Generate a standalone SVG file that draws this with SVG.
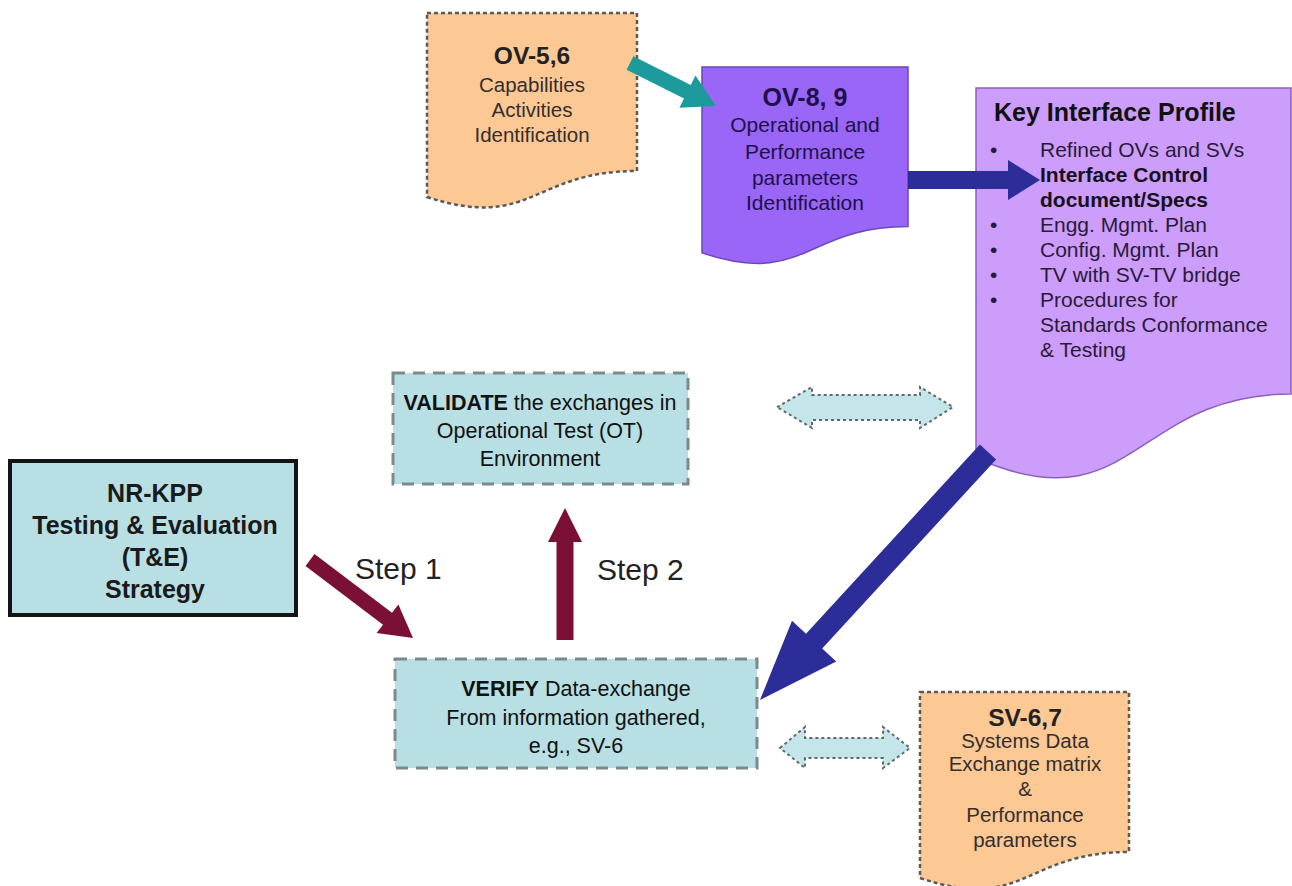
<svg xmlns="http://www.w3.org/2000/svg" width="1292" height="886" viewBox="0 0 1292 886">
  <defs>
    <style>
      text { font-family: "Liberation Sans", Arial, sans-serif; }
      .doc-peach { fill: #fcc894; stroke: #5a5a5a; stroke-width: 2.5; stroke-dasharray: 4 3; }
      .doc-violet { fill: #9966f8; stroke: #6a48b8; stroke-width: 1.5; }
      .doc-lilac { fill: #cc9dfa; stroke: #8a60c0; stroke-width: 1.5; }
      .step-box { fill: #b8dfe3; stroke: #7d8a8c; stroke-width: 3; stroke-dasharray: 12 8; }
      .strategy-box { fill: #b8dfe3; stroke: #141414; stroke-width: 4; }
      .dbl-arrow { fill: #c4e6ea; stroke: #5f6969; stroke-width: 2; stroke-dasharray: 3 3; }
      .t-doc { fill: #352e2e; font-size: 20.5px; text-anchor: middle; }
      .t-doc-h { fill: #222222; font-size: 24.5px; font-weight: bold; text-anchor: middle; }
      .t-violet { fill: #1e1048; font-size: 21px; text-anchor: middle; }
      .t-violet-h { fill: #1e1048; font-size: 25px; font-weight: bold; text-anchor: middle; }
      .t-kip { fill: #2a1a3a; font-size: 21px; }
      .t-kip-h { fill: #111111; font-size: 25px; font-weight: bold; }
      .t-step { fill: #111111; font-size: 21.5px; text-anchor: middle; }
      .t-strat { fill: #1a1a1a; font-size: 25px; font-weight: bold; text-anchor: middle; }
      .t-label { fill: #222222; font-size: 30px; }
    </style>
  </defs>

  <rect width="1292" height="886" fill="#ffffff"/>

  <!-- OV-5,6 document -->
  <g id="ov56">
    <path class="doc-peach" d="M427,13 H637 V171 C532,171 532,231 427,197 Z"/>
    <text class="t-doc-h" x="532" y="64">OV-5,6</text>
    <text class="t-doc" x="532" y="92">Capabilities</text>
    <text class="t-doc" x="532" y="117">Activities</text>
    <text class="t-doc" x="532" y="142">Identification</text>
  </g>

  <!-- OV-8, 9 document -->
  <g id="ov89">
    <path class="doc-violet" d="M702,67 H908 V226.6 C805,226.6 805,287.4 702,252.9 Z"/>
    <text class="t-violet-h" x="805" y="106">OV-8, 9</text>
    <text class="t-violet" x="805" y="132">Operational and</text>
    <text class="t-violet" x="805" y="159">Performance</text>
    <text class="t-violet" x="805" y="185">parameters</text>
    <text class="t-violet" x="805" y="210">Identification</text>
  </g>

  <!-- Key Interface Profile document -->
  <g id="kip">
    <path class="doc-lilac" d="M976,88 H1291 V394 C1133,394 1133,527 976,458 Z"/>
    <text class="t-kip-h" x="994" y="121">Key Interface Profile</text>
    <g class="t-kip">
      <text x="990" y="157">•</text>
      <text x="1040" y="157">Refined OVs and SVs</text>
      <text x="990" y="182">•</text>
      <text x="1040" y="182" font-weight="bold" fill="#161020">Interface Control</text>
      <text x="1040" y="207" font-weight="bold" fill="#161020">document/Specs</text>
      <text x="990" y="232">•</text>
      <text x="1040" y="232">Engg. Mgmt. Plan</text>
      <text x="990" y="257">•</text>
      <text x="1040" y="257">Config. Mgmt. Plan</text>
      <text x="990" y="282">•</text>
      <text x="1040" y="282">TV with SV-TV bridge</text>
      <text x="990" y="307">•</text>
      <text x="1040" y="307">Procedures for</text>
      <text x="1040" y="332">Standards Conformance</text>
      <text x="1040" y="357">&amp; Testing</text>
    </g>
  </g>

  <!-- VALIDATE step -->
  <g id="validate">
    <rect class="step-box" x="393" y="373" width="295" height="111"/>
    <text class="t-step" x="540" y="410"><tspan font-weight="bold">VALIDATE</tspan> the exchanges in</text>
    <text class="t-step" x="540" y="438">Operational Test (OT)</text>
    <text class="t-step" x="540" y="466">Environment</text>
  </g>

  <!-- NR-KPP strategy -->
  <g id="strategy">
    <rect class="strategy-box" x="10" y="461" width="286" height="154"/>
    <text class="t-strat" x="155" y="502">NR-KPP</text>
    <text class="t-strat" x="155" y="534">Testing &amp; Evaluation</text>
    <text class="t-strat" x="155" y="566">(T&amp;E)</text>
    <text class="t-strat" x="155" y="598">Strategy</text>
  </g>

  <!-- VERIFY step -->
  <g id="verify">
    <rect class="step-box" x="395" y="659" width="362" height="109"/>
    <text class="t-step" x="576" y="696" font-size="22px"><tspan font-weight="bold">VERIFY</tspan> Data-exchange</text>
    <text class="t-step" x="576" y="725" font-size="22px">From information gathered,</text>
    <text class="t-step" x="576" y="753" font-size="22px">e.g., SV-6</text>
  </g>

  <!-- SV-6,7 document -->
  <g id="sv67">
    <path class="doc-peach" d="M920,692 H1129 V852 C1024.5,852 1024.5,913 920,878 Z"/>
    <text class="t-doc-h" x="1025" y="726">SV-6,7</text>
    <text class="t-doc" x="1025" y="748">Systems Data</text>
    <text class="t-doc" x="1025" y="771">Exchange matrix</text>
    <text class="t-doc" x="1025" y="796">&amp;</text>
    <text class="t-doc" x="1025" y="822">Performance</text>
    <text class="t-doc" x="1025" y="847">parameters</text>
  </g>

  <!-- connectors -->
  <g id="connectors">
    <!-- OV-5,6 to OV-8,9 -->
    <polygon fill="#1c9a9c" points="633.4,56.3 690.8,85.0 695.4,75.6 716,106 679.4,107.8 684.0,98.4 626.6,69.7"/>
    <!-- OV-8,9 to Key Interface Profile -->
    <polygon fill="#2d2d9a" points="908,171 1008,171 1008,160 1040,180 1008,200 1008,189 908,189"/>
    <!-- Key Interface Profile to VERIFY -->
    <polygon fill="#2d2d9a" points="979.9,444.6 806.0,633.7 792.0,620.8 760,700 836.2,661.4 822.2,648.5 996.1,459.4"/>
    <!-- Step 1 -->
    <polygon fill="#7b1036" points="314.5,554.0 392.0,612.7 398.4,604.4 413,638 376.6,633.0 383.0,624.7 305.5,566.0"/>
    <!-- Step 2 -->
    <polygon fill="#7b1036" points="556.5,640 556.5,542 548,542 565,508 582,542 573.5,542 573.5,640"/>
    <!-- VALIDATE <-> Key Interface Profile -->
    <polygon class="dbl-arrow" points="777,407 812,387 812,395 920,395 920,387 953,407 920,428 920,420 812,420 812,428"/>
    <!-- VERIFY <-> SV-6,7 -->
    <polygon class="dbl-arrow" points="780,748 805,727 805,738 883,738 883,727 910,748 883,768 883,758 805,758 805,768"/>
  </g>

  <text class="t-label" x="355" y="579">Step 1</text>
  <text class="t-label" x="597" y="580">Step 2</text>
</svg>
